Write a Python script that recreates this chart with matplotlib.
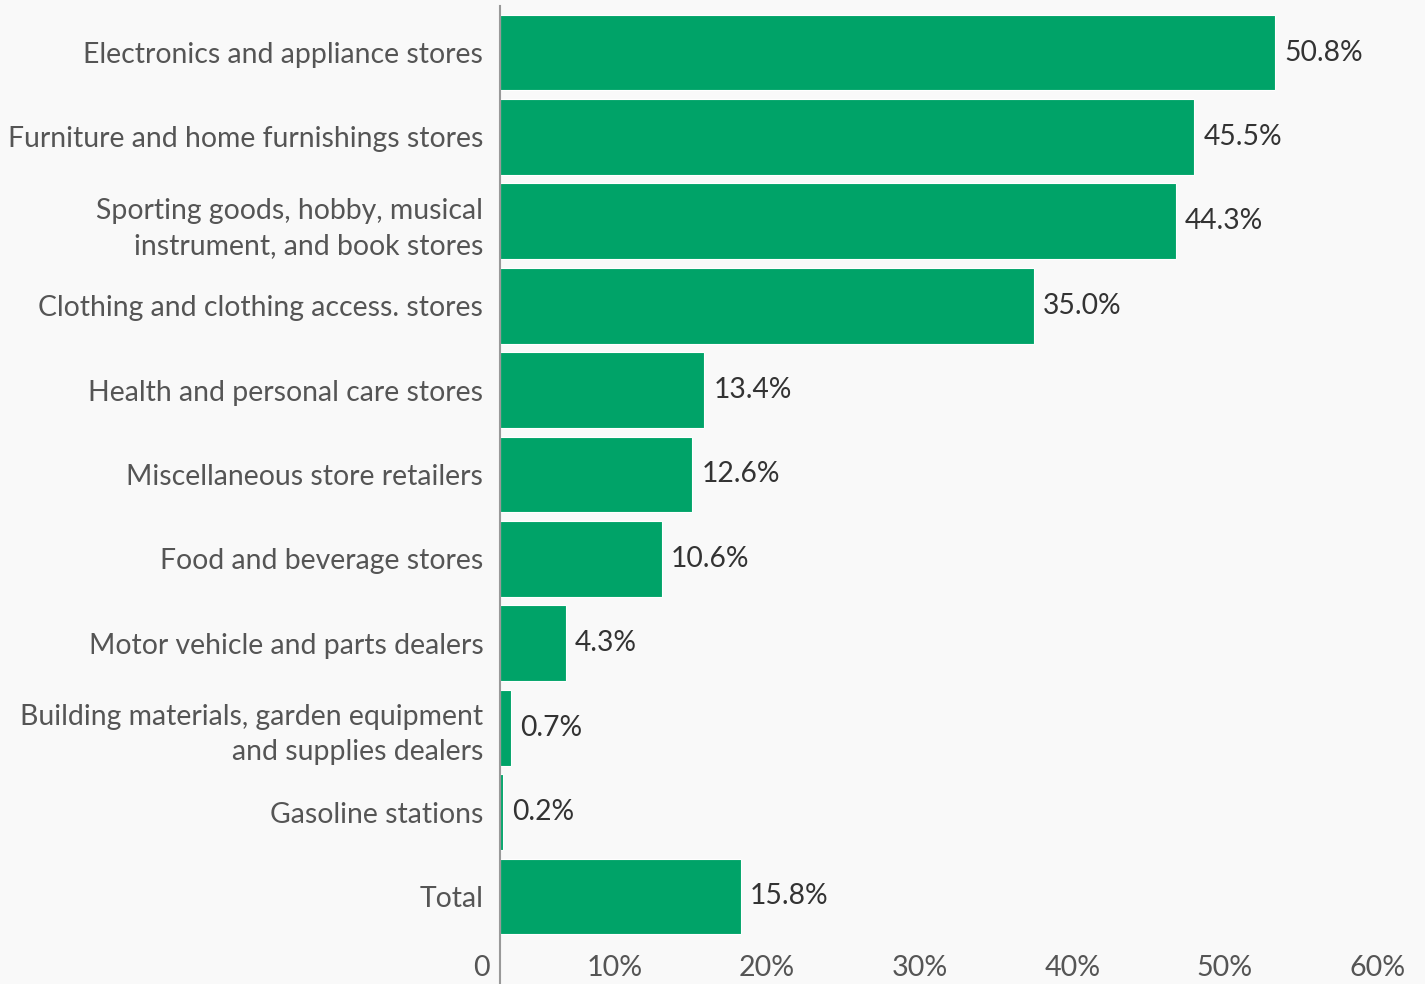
import matplotlib
matplotlib.use("Agg")
import matplotlib.pyplot as plt
from matplotlib.transforms import ScaledTranslation

categories = [
    "Electronics and appliance stores",
    "Furniture and home furnishings stores",
    "Sporting goods, hobby, musical\ninstrument, and book stores",
    "Clothing and clothing access. stores",
    "Health and personal care stores",
    "Miscellaneous store retailers",
    "Food and beverage stores",
    "Motor vehicle and parts dealers",
    "Building materials, garden equipment\nand supplies dealers",
    "Gasoline stations",
    "Total",
]
values = [50.8, 45.5, 44.3, 35.0, 13.4, 12.6, 10.6, 4.3, 0.7, 0.2, 15.8]
tick_values = [0, 10, 20, 30, 40, 50, 60]
tick_labels = ["0", "10%", "20%", "30%", "40%", "50%", "60%"]

plt.rcParams["font.family"] = ["Lato", "DejaVu Sans"]

W, H, DPI = 1425, 984, 100
bg = "#f9f9f9"
fig = plt.figure(figsize=(W / DPI, H / DPI), dpi=DPI, facecolor=bg)
ax = fig.add_axes([500 / W, 0, 915.6 / W, 978 / H], facecolor=bg)

ypos = list(range(len(categories)))
ax.barh(ypos, values, height=0.9, color="#00a368", edgecolor="white",
        linewidth=0.8, zorder=2)

ax.set_xlim(0, 60)
ax.set_ylim(len(categories) - 1 + 1.037, -0.551)

for s in ["top", "right", "bottom"]:
    ax.spines[s].set_visible(False)
ax.spines["left"].set_color("#999999")
ax.spines["left"].set_linewidth(1.5)
ax.spines["left"].set_zorder(3)

ax.set_xticks([])
ax.set_yticks(ypos)
ax.set_yticklabels(categories, fontsize=20.4, color="#555555", linespacing=1.42)
ax.tick_params(axis="y", length=0, pad=12)

# value labels to the right of each bar
off_r = ScaledTranslation(9 / DPI, 0, fig.dpi_scale_trans)
for y, v in zip(ypos, values):
    ax.text(v, y, f"{v:.1f}%", transform=ax.transData + off_r,
            ha="left", va="center", fontsize=20.3, color="#333333")

# x tick labels, right-aligned slightly left of each gridline position
tick_y = len(categories) - 1 + (968 - 896.5) / 84.4
off_l = ScaledTranslation(-10 / DPI, 0, fig.dpi_scale_trans)
for t, lab in zip(tick_values, tick_labels):
    ax.text(t, tick_y, lab, transform=ax.transData + off_l,
            ha="right", va="center", fontsize=20.6, color="#555555")

fig.savefig("out.png", dpi=DPI, facecolor=bg)
